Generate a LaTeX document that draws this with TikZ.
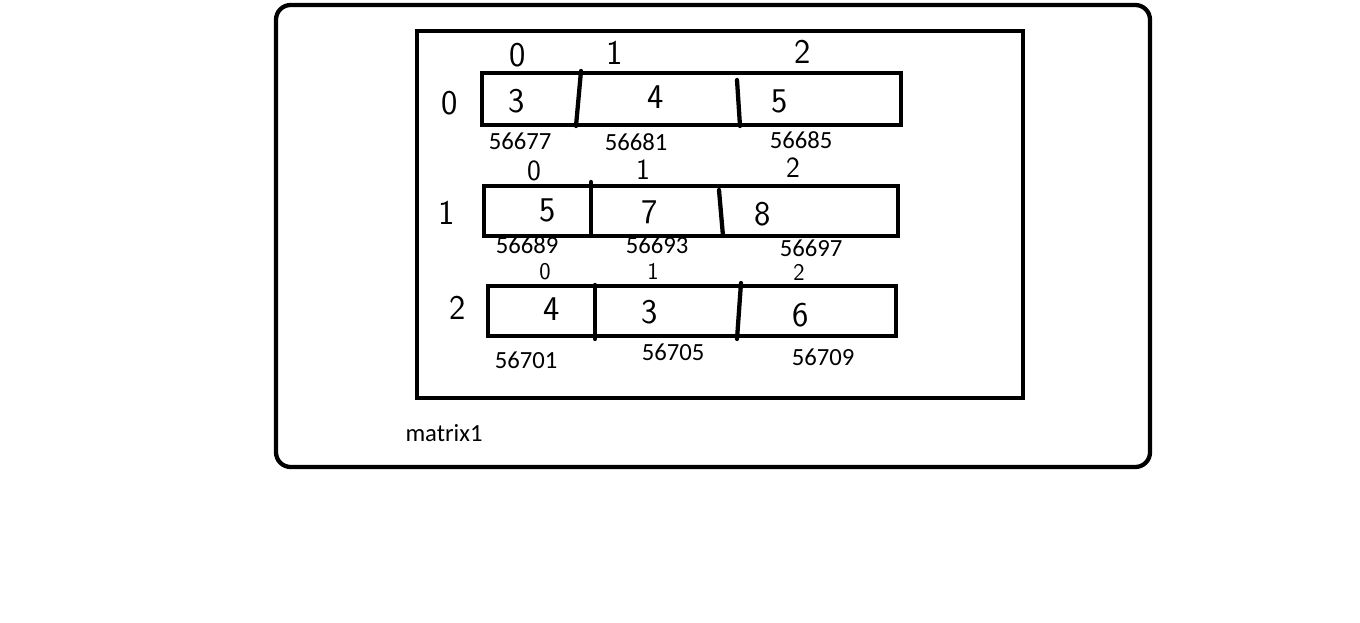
\documentclass[tikz,border=0pt]{standalone}
\usepackage{fontspec}
\setmainfont{Carlito}
\begin{document}
\begin{tikzpicture}[x=0.75pt,y=-0.75pt,
  thick line/.style={line width=3.2pt, line cap=round},
  cellbox/.style={draw, line width=3.6pt},
  hand/.style={font=\sffamily\fontsize{26}{28}\selectfont, inner sep=0pt},
  handmid/.style={font=\sffamily\fontsize{22}{24}\selectfont, inner sep=0pt},
  handsmall/.style={font=\sffamily\fontsize{18}{20}\selectfont, inner sep=0pt},
  addr/.style={font=\fontsize{18.5}{21}\selectfont, inner sep=0pt}]
\useasboundingbox (0,0) rectangle (1360,623);
% outer frame
\draw[line width=3.2pt, rounded corners=11pt] (276,5) rectangle (1150,467);
% inner frame
\draw[line width=3.4pt] (417,31) rectangle (1023,398);
% row boxes
\draw[cellbox] (482,73) rectangle (901,125);
\draw[cellbox] (484,186) rectangle (898,236);
\draw[cellbox] (488,286) rectangle (896,336);
% dividers
\coordinate (d1a) at (581,71); \coordinate (d1b) at (576,126);
\coordinate (d2a) at (737,80); \coordinate (d2b) at (740,126);
\coordinate (d3a) at (591,182); \coordinate (d3b) at (591,236);
\coordinate (d4a) at (719,190); \coordinate (d4b) at (723,236);
\coordinate (d5a) at (595,285); \coordinate (d5b) at (595,339);
\coordinate (d6a) at (741,283); \coordinate (d6b) at (737,339);
\draw[thick line] (d1a) -- (d1b);
\draw[thick line] (d2a) -- (d2b);
\draw[thick line] (d3a) -- (d3b);
\draw[thick line] (d4a) -- (d4b);
\draw[thick line] (d5a) -- (d5b);
\draw[thick line] (d6a) -- (d6b);
% column indices
\node[hand] (c00) at (518,55) {0};
\node[hand] (c01) at (615,53) {1};
\node[hand] (c02) at (803,52) {2};
\node[handmid] (c10) at (534,171) {0};
\node[handmid] (c11) at (643,170) {1};
\node[handmid] (c12) at (793,168) {2};
\node[handsmall] (c20) at (545,272) {0};
\node[handsmall] (c21) at (653,271) {1};
\node[handsmall] (c22) at (799,272) {2};
% row indices
\node[hand] (r0) at (450,103) {0};
\node[hand] (r1) at (447,213) {1};
\node[hand] (r2) at (458,308) {2};
% values
\node[hand] (v00) at (517,101) {3};
\node[hand] (v01) at (656,97) {4};
\node[hand] (v02) at (780,101) {5};
\node[hand] (v10) at (548,210) {5};
\node[hand] (v11) at (650,212) {7};
\node[hand] (v12) at (763,214) {8};
\node[hand] (v20) at (552,309) {4};
\node[hand] (v21) at (650,312) {3};
\node[hand] (v22) at (801,315) {6};
% addresses
\node[addr] (a00) at (520,141) {56677};
\node[addr] (a01) at (636,142) {56681};
\node[addr] (a02) at (801,140) {56685};
\node[addr] (a10) at (527,245) {56689};
\node[addr] (a11) at (657,245) {56693};
\node[addr] (a12) at (811,248) {56697};
\node[addr] (a20) at (526,360) {56701};
\node[addr] (a21) at (673,352) {56705};
\node[addr] (a22) at (823,357) {56709};
% label
\node[addr] (lbl) at (444,433) {matrix1};
\end{tikzpicture}
\end{document}
